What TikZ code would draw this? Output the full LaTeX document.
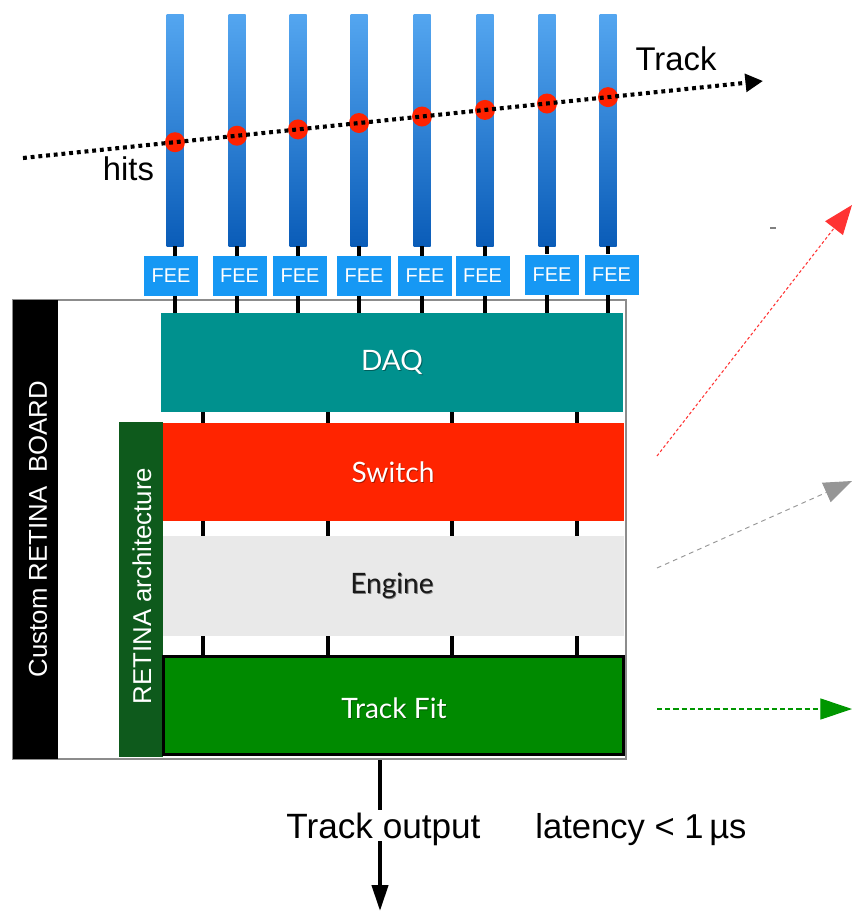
\documentclass[tikz,border=0pt]{standalone}
\usepackage{fontspec}
\setmainfont{Liberation Sans}
\newfontfamily\blockfont{Lato}
\usetikzlibrary{arrows.meta}
\newcommand{\pxu}{0.03cm}

\definecolor{bartop}{RGB}{84,166,240}
\definecolor{barbot}{RGB}{10,92,184}
\definecolor{hitred}{RGB}{255,34,0}
\definecolor{feeblue}{RGB}{22,152,244}
\definecolor{daqteal}{RGB}{0,145,142}
\definecolor{archgreen}{RGB}{14,90,28}
\definecolor{switchred}{RGB}{255,36,0}
\definecolor{enginegray}{RGB}{233,233,233}
\definecolor{fitgreen}{RGB}{0,138,0}
\definecolor{boardgray}{RGB}{140,140,140}
\definecolor{arrred}{RGB}{255,51,51}
\definecolor{arrgray}{RGB}{150,150,150}
\definecolor{arrgreen}{RGB}{0,150,0}

\begin{document}
\begin{tikzpicture}[x=\pxu, y=-\pxu,
  detbar/.style={rectangle, inner sep=0, draw=none, minimum width=17*\pxu,
    minimum height=232*\pxu, top color=bartop, bottom color=barbot},
  fee/.style={rectangle, fill=feeblue, inner sep=0, minimum width=54*\pxu,
    minimum height=40*\pxu, text=white, font=\fontsize{17}{18}\selectfont},
  hit/.style={circle, fill=hitred, inner sep=0, minimum size=20*\pxu},
  wire/.style={line width=3.4pt, black},
  trackline/.style={line width=3.5pt, dash pattern=on 3.3pt off 3.3pt,
    -{Triangle[length=15pt, width=15pt]}},
  board/.style={rectangle, draw=boardgray, line width=1.8pt, fill=white,
    inner sep=0, minimum width=613*\pxu, minimum height=459*\pxu},
  layer/.style={rectangle, inner sep=0, draw=none, minimum width=461*\pxu},
  lbl/.style={inner sep=0, text=white, font=\blockfont\fontsize{24}{26}\selectfont},
  lblsh/.style={lbl, text=black, text opacity=0.35, xshift=0.7pt, yshift=-1pt},
  sidelbl/.style={inner sep=0, rotate=90, text=white, font=\fontsize{22}{24}\selectfont},
  bigtxt/.style={inner sep=0, font=\fontsize{28}{30}\selectfont}
]
\useasboundingbox (0,0) rectangle (852,911);

% detector planes
\foreach \n/\x in {1/175,2/237,3/298,4/359,5/422,6/485,7/547,8/608}
  \node[detbar] (b\n) at (\x,130) {};

% hits on the planes
\foreach \n/\x/\y in {1/175/142.2,2/237/135.7,3/298/129.4,4/359/123.0,
                      5/422/116.5,6/485/109.9,7/547/103.5,8/608/97.1}
  \node[hit] (h\n) at (\x,\y) {};

% the track through the planes
\coordinate (trk0) at (23,158);
\coordinate (trk1) at (763,81);
\draw[trackline] (trk0) -- (trk1);
\node[bigtxt, anchor=base] (tracklbl) at (676,70.7) {Track};
\node[bigtxt, anchor=base] (hitslbl) at (128.5,180) {hits};

% front-end electronics
\foreach \n/\x/\y in {1/171/276,2/239.5/276,3/300/276,4/364/276,
                      5/425/276,6/482.5/276,7/552/274.5,8/611.5/274.5}
  \node[fee] (f\n) at (\x,\y) {FEE};

% board and its layers
\node[board] (board) at (319.5,529.5) {};
\node[rectangle, fill=black, inner sep=0, minimum width=45*\pxu,
  minimum height=459*\pxu] (boardbar) at (35.5,529.5) {};
\node[sidelbl] (boardlbl) at (38,529) {Custom RETINA\ \ BOARD};

\node[layer, fill=daqteal, minimum width=462*\pxu, minimum height=99*\pxu]
  (daq) at (392,362.5) {};
\node[rectangle, fill=archgreen, inner sep=0, minimum width=44*\pxu,
  minimum height=335*\pxu] (arch) at (141,589.5) {};
\node[sidelbl] (archlbl) at (142,586) {RETINA architecture};

\node[layer, fill=switchred, minimum height=98*\pxu] (sw) at (393.5,472) {};
\node[layer, fill=enginegray, minimum height=100*\pxu] (eng) at (393.5,586) {};
\node[layer, fill=fitgreen, draw=black, line width=1.8pt, minimum width=460*\pxu,
  minimum height=98*\pxu] (fit) at (393.5,705.5) {};

% layer names
\node[lblsh] (daq-sh) at (392,362) {DAQ};
\node[lbl] (daq-lbl) at (392,362) {DAQ};
\node[lblsh] (sw-sh) at (393,472) {Switch};
\node[lbl] (sw-lbl) at (393,472) {Switch};
\node[lblsh, text opacity=0.45] (eng-sh) at (392,586) {Engine};
\node[lbl, text=black!90] (eng-lbl) at (392,586) {Engine};
\node[lblsh] (fit-sh) at (394,708) {Track Fit};
\node[lbl] (fit-lbl) at (394,708) {Track Fit};

% plane -> FEE -> DAQ links
\foreach \n in {1,...,8} {
  \draw[wire] (b\n.south) -- (b\n.south |- f\n.north);
  \draw[wire] (b\n.south |- f\n.south) -- (b\n.south |- daq.north);
}

% links between layers
\foreach \n/\t in {1/203,2/328,3/452,4/577} {
  \coordinate (tk\n) at (\t,0);
  \draw[wire] (tk\n |- daq.south) -- (tk\n |- sw.north);
  \draw[wire] (tk\n |- sw.south) -- (tk\n |- eng.north);
  \draw[wire] (tk\n |- eng.south) -- (tk\n |- fit.north);
}

% track output
\coordinate (outend) at (380,911);
\draw[wire, -{Triangle[length=22pt, width=13.6pt]}] (board.south -| outend) -- (outend);
\node[bigtxt, anchor=base, fill=white, text depth=0pt, inner sep=2.5pt,
  font=\fontsize{30}{32}\selectfont] (outlbl) at (383.5,838) {Track output};
\node[bigtxt, anchor=base, font=\fontsize{29.5}{31}\selectfont]
  (latlbl) at (641,838) {latency < 1\,µs};

% outgoing arrows on the right
\coordinate (rs) at (657,456);
\coordinate (re) at (852,205);
\coordinate (gs) at (657,568);
\coordinate (ge) at (852,481);
\coordinate (ns) at (657,709);
\coordinate (ne) at (852,709);
\draw[arrred, line width=0.9pt, dash pattern=on 2.5pt off 2pt,
  -{Triangle[length=25pt, width=19pt]}] (rs) -- (re);
\draw[arrgray, line width=0.8pt, dash pattern=on 4pt off 3.5pt,
  -{Triangle[length=24pt, width=18pt]}] (gs) -- (ge);
\draw[arrgreen, line width=0.9pt, dash pattern=on 4.5pt off 2.5pt,
  -{Triangle[length=27pt, width=18pt]}] (ns) -- (ne);
\coordinate (mk0) at (770,228);
\coordinate (mk1) at (776,228);
\draw[gray, line width=1pt] (mk0) -- (mk1);
\end{tikzpicture}
\end{document}
